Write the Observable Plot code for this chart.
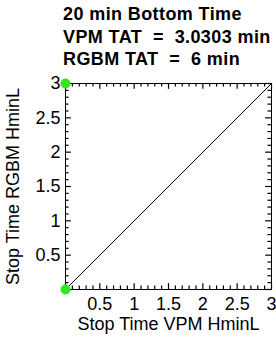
<!DOCTYPE html>
<html>
<head>
<meta charset="utf-8">
<script src="https://cdn.jsdelivr.net/npm/d3@7"></script>
<script src="https://cdn.jsdelivr.net/npm/@observablehq/plot@0.6"></script>
<style>
  body { margin: 0; background: #fff; }
  #wrap { position: relative; width: 276px; height: 345px; font-family: "Liberation Sans", Arial, sans-serif; }
  #title { position: absolute; left: 63px; top: 3px; font-weight: bold; font-size: 18px; letter-spacing: 0.4px; line-height: 22.5px; color: #000; white-space: pre; }
  #chart { position: absolute; left: 0; top: 0; }
</style>
</head>
<body>
<div id="wrap">
  <div id="chart"></div>
  <div id="title"></div>
</div>
<script>
const titleLines = ["20 min Bottom Time", "VPM TAT  =  3.0303 min", "RGBM TAT  =  6 min"];
const xLabel = "Stop Time VPM HminL";
const yLabel = "Stop Time RGBM HminL";
const tickValues = [0.5, 1, 1.5, 2, 2.5, 3];
const majorTicks = [0, 0.5, 1, 1.5, 2, 2.5, 3];
const minorTicks = [0.1,0.2,0.3,0.4,0.6,0.7,0.8,0.9,1.1,1.2,1.3,1.4,1.6,1.7,1.8,1.9,2.1,2.2,2.3,2.4,2.6,2.7,2.8,2.9];
const lineVPM = [0, 3];
const lineRGBM = [0, 3];
const pointVPM = [0, 0];
const pointRGBM = [0, 3];

document.getElementById("title").innerHTML = titleLines.map(t => `<div>${t}</div>`).join("");

const W = 276, H = 345, mL = 65, mR = 5, mT = 83, mB = 56;
const lineData = lineVPM.map((x, i) => ({x, y: lineRGBM[i]}));
const pts = pointVPM.map((x, i) => ({x, y: pointRGBM[i]}));
const green = "#33e61f";
const font = "Liberation Sans, Arial, sans-serif";
// tick lengths, in data units (3 units span ~206 px)
const minorLen = 0.052, majorLen = 0.085;
const domainMax = 3;

const tickMarks = [];
for (const [vals, len] of [[minorTicks, minorLen], [majorTicks, majorLen]]) {
  const st = {stroke: "#000", strokeWidth: 1.2};
  tickMarks.push(
    Plot.ruleX(vals, {x: d => d, y1: () => 0, y2: () => len, ...st}),
    Plot.ruleX(vals, {x: d => d, y1: () => domainMax - len, y2: () => domainMax, ...st}),
    Plot.ruleY(vals, {y: d => d, x1: () => 0, x2: () => len, ...st}),
    Plot.ruleY(vals, {y: d => d, x1: () => domainMax - len, x2: () => domainMax, ...st})
  );
}

const chart = Plot.plot({
  width: W, height: H,
  marginLeft: mL, marginRight: mR, marginTop: mT, marginBottom: mB,
  style: {fontFamily: font, background: "#fff", overflow: "visible"},
  x: {domain: [0, domainMax]},
  y: {domain: [0, domainMax]},
  marks: [
    Plot.frame({stroke: "#000", strokeWidth: 1, fill: "none", shapeRendering: "crispEdges"}),
    ...tickMarks,
    Plot.line(lineData, {x: "x", y: "y", stroke: "#000", strokeWidth: 1}),
    Plot.dot(pts, {x: "x", y: "y", r: 5, fill: green, stroke: "none"}),
    Plot.axisX({ticks: tickValues, tickSize: 0, tickPadding: 8, fontSize: 18, label: null, tickFormat: d => String(d), fill: "#000"}),
    Plot.axisY({ticks: tickValues, tickSize: 0, tickPadding: 5, fontSize: 18, label: null, tickFormat: d => String(d), fill: "#000"}),
    Plot.text([xLabel], {text: d => d, frameAnchor: "bottom", textAnchor: "middle", dy: 28, lineAnchor: "top", fontSize: 18, fill: "#000"}),
    Plot.text([yLabel], {text: d => d, frameAnchor: "left", textAnchor: "middle", dx: -52, rotate: -90, lineAnchor: "middle", fontSize: 18, fill: "#000"})
  ]
});
document.getElementById("chart").appendChild(chart);
</script>
</body>
</html>
